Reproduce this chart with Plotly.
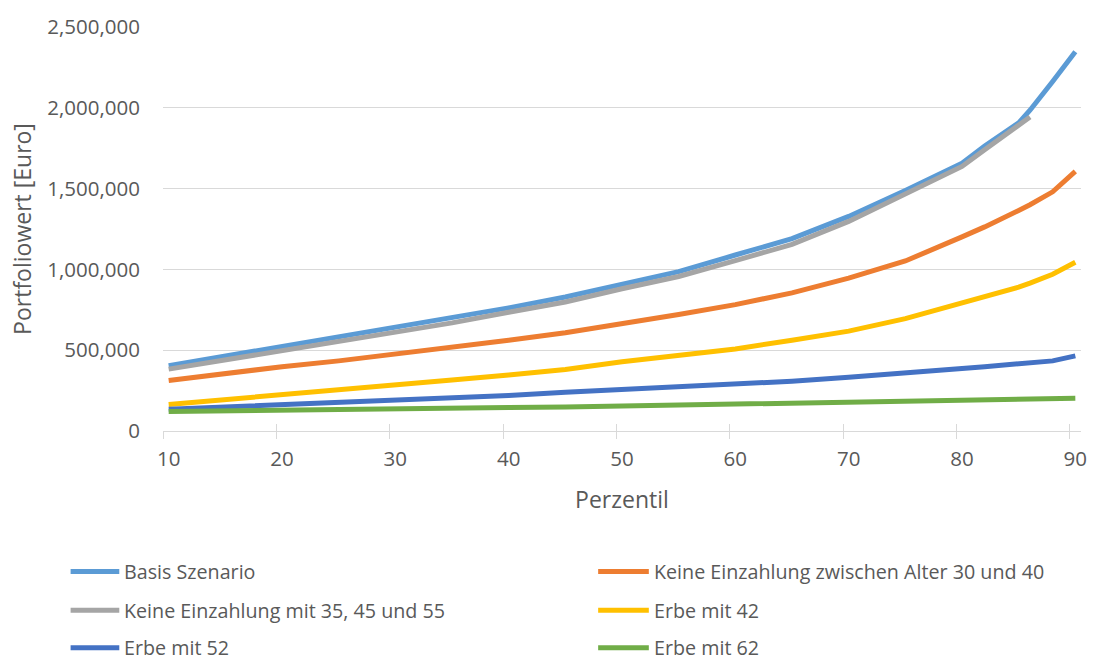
import plotly.graph_objects as go

# Percentiles and portfolio values (Euro) per scenario
percentiles = [10, 15, 20, 25, 30, 35, 40, 45, 50, 55, 60, 65, 70, 75, 80, 82, 85, 86, 88, 90]

basis = [404000, 463000, 522000, 582000, 643000, 696000, 762000, 829000, 909000, 986000,
         1089000, 1190000, 1328000, 1488000, 1657000, 1764000, 1907000, 1985000, 2163000, 2347000]
keine_30_40 = [312000, 357000, 398000, 434000, 475000, 516000, 561000, 608000, 663000, 721000,
               782000, 855000, 946000, 1052000, 1201000, 1263000, 1365000, 1400000, 1480000, 1606000]
keine_35_45_55 = [383000, 439000, 496000, 553000, 614000, 669000, 735000, 798000, 880000, 956000,
                  1054000, 1155000, 1297000, 1467000, 1637000, 1740000, 1887000, 1943000, None, None]
erbe_42 = [164000, 193000, 226000, 254000, 285000, 316000, 347000, 381000, 428000, 470000,
           508000, 562000, 618000, 695000, 790000, 830000, 890000, 915000, 970000, 1044000]
erbe_52 = [134000, 148000, 160000, 172000, 189000, 203000, 220000, 240000, 256000, 275000,
           289000, 308000, 332000, 363000, 387000, 398000, 414000, 420000, 434000, 465000]
erbe_62 = [121000, 126000, 130000, 134000, 138000, 142000, 145000, 148000, 154000, 160000,
           169000, 175000, 179000, 185000, 189000, 191000, 195000, 196000, 199000, 203000]

series_names = [
    "Basis Szenario",
    "Keine Einzahlung zwischen Alter 30 und 40",
    "Keine Einzahlung mit 35, 45 und 55",
    "Erbe mit 42",
    "Erbe mit 52",
    "Erbe mit 62",
]
series_values = [basis, keine_30_40, keine_35_45_55, erbe_42, erbe_52, erbe_62]
series_colors = ["#5B9BD5", "#ED7D31", "#A5A5A5", "#FFC000", "#4472C4", "#70AD47"]

x_labels = [10, 20, 30, 40, 50, 60, 70, 80, 90]
y_ticks = [0, 500000, 1000000, 1500000, 2000000, 2500000]

FONT = "Open Sans"
TEXT_COLOR = "#595959"
GRID_COLOR = "#D9D9D9"
X_RANGE = [9.5, 90.5]
TICK_SIZE = 20.5
TITLE_SIZE = 23
LEGEND_SIZE = 19.7
LINE_W = 5

fig = go.Figure()
for name, vals, col in zip(series_names, series_values, series_colors):
    fig.add_trace(go.Scatter(
        x=percentiles, y=vals, name=name, mode="lines",
        line=dict(color=col, width=LINE_W, shape="linear"),
        showlegend=False, connectgaps=False,
    ))

# category boundaries carry the tick marks, labels sit at the category centres
boundaries = [v - 0.5 for v in x_labels]

fig.update_layout(
    width=1099, height=661,
    margin=dict(l=163, r=12, t=23, b=230),
    paper_bgcolor="white", plot_bgcolor="white",
    font=dict(family=FONT, size=TICK_SIZE, color=TEXT_COLOR),
    xaxis=dict(
        range=X_RANGE, tickmode="array", tickvals=boundaries,
        ticks="outside", ticklen=7, tickwidth=1.3, tickcolor=GRID_COLOR,
        showticklabels=False, showgrid=False, zeroline=False,
        showline=True, linecolor=GRID_COLOR, linewidth=1.3,
    ),
    xaxis2=dict(
        range=X_RANGE, overlaying="x", anchor="y", side="bottom",
        tickmode="array", tickvals=x_labels, ticktext=[str(v) for v in x_labels],
        ticks="", showgrid=False, zeroline=False, showline=False,
        ticklabelstandoff=13,
        tickfont=dict(family=FONT, size=TICK_SIZE, color=TEXT_COLOR),
        title=dict(text="Perzentil", standoff=21,
                   font=dict(family=FONT, size=TITLE_SIZE, color=TEXT_COLOR)),
    ),
    xaxis3=dict(
        range=X_RANGE, overlaying="x", anchor="y", side="bottom",
        tickmode="array", tickvals=boundaries,
        ticks="inside", ticklen=7, tickwidth=1.3, tickcolor=GRID_COLOR,
        showticklabels=False, showgrid=False, zeroline=False, showline=False,
    ),
    yaxis=dict(
        range=[0, 2500000], tickmode="array", tickvals=y_ticks, tickformat=",",
        showgrid=True, gridcolor=GRID_COLOR, gridwidth=1.3,
        zeroline=False, showline=False, ticks="",
        ticklabelstandoff=22,
        tickfont=dict(family=FONT, size=TICK_SIZE, color=TEXT_COLOR),
        title=dict(text="Portfoliowert [Euro]", standoff=9,
                   font=dict(family=FONT, size=TITLE_SIZE, color=TEXT_COLOR)),
    ),
)

# empty traces so the overlay axes get drawn
fig.add_trace(go.Scatter(x=[None], y=[None], xaxis="x2", yaxis="y", showlegend=False, hoverinfo="skip"))
fig.add_trace(go.Scatter(x=[None], y=[None], xaxis="x3", yaxis="y", showlegend=False, hoverinfo="skip"))

# legend in two columns below the plot area
plot_left, plot_w = 163, 924
plot_bottom, plot_h = 431, 408


def px_to_paper_x(px):
    return (px - plot_left) / plot_w


def px_to_paper_y(py):
    return (plot_bottom - py) / plot_h


row_y = [573, 612, 650]
col_line = [(70, 119), (601, 652)]
col_text = [122, 655]

for i, (name, col) in enumerate(zip(series_names, series_colors)):
    r, c = divmod(i, 2)
    yp = px_to_paper_y(row_y[r])
    x0, x1 = col_line[c]
    fig.add_shape(type="line", xref="paper", yref="paper",
                  x0=px_to_paper_x(x0), x1=px_to_paper_x(x1), y0=yp, y1=yp,
                  line=dict(color=col, width=LINE_W))
    fig.add_annotation(xref="paper", yref="paper", x=px_to_paper_x(col_text[c]), y=yp,
                       text=name, showarrow=False, xanchor="left", yanchor="middle",
                       font=dict(family=FONT, size=LEGEND_SIZE, color=TEXT_COLOR))

fig.write_html("out.html")
